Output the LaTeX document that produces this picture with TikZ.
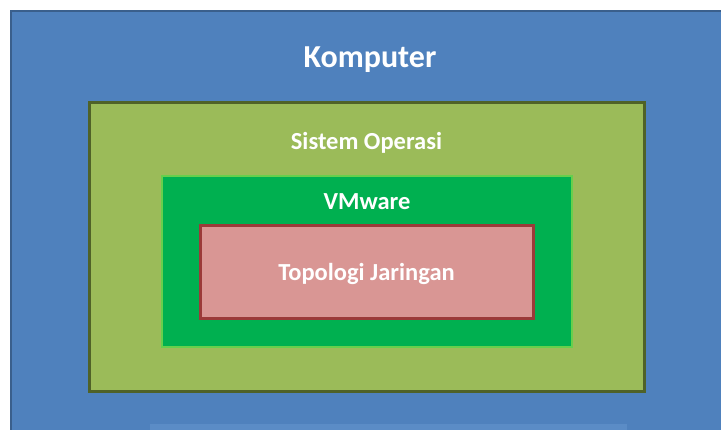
\documentclass[tikz,border=0pt]{standalone}
\usepackage{fontspec}
\setmainfont{Carlito}
\usepackage{xcolor}
\usepackage{tikz}
\usetikzlibrary{positioning}
\definecolor{komputerBlue}{HTML}{4F81BD}
\definecolor{komputerEdge}{HTML}{3A5F8C}
\definecolor{stripBlue}{HTML}{5B8CC6}
\definecolor{osGreen}{HTML}{9BBB59}
\definecolor{osEdge}{HTML}{4F6228}
\definecolor{vmGreen}{HTML}{00B050}
\definecolor{vmEdge}{HTML}{66D04C}
\definecolor{topoPink}{HTML}{D99694}
\definecolor{topoEdge}{HTML}{9B3A39}

\tikzset{
    layer/.style={rectangle, inner sep=0pt, outer sep=0pt},
    layertext/.style={text=white, font=\bfseries\fontsize{24.5}{28}\selectfont, inner sep=0pt, anchor=base}
}

\begin{document}
\begin{tikzpicture}[x=1pt, y=-1pt]
    \useasboundingbox (0,0) rectangle (721,430);
    \clip (0,0) rectangle (721,430);

    % Komputer
    \draw[komputerEdge, line width=2pt, fill=komputerBlue] (11,11) rectangle (740,450);
    \fill[stripBlue] (150,424) rectangle (627,440);
    \node[layertext, font=\bfseries\fontsize{32}{36}\selectfont] (komputer) at (370,68) {Komputer};

    % Sistem Operasi
    \node[layer, draw=osEdge, line width=3pt, fill=osGreen, minimum width=555pt, minimum height=289pt] (os) at (366.5,247.5) {};
    \node[layertext] (ostext) at ([yshift=-47pt]os.north) {Sistem Operasi};

    % VMware
    \node[layer, draw=vmEdge, line width=1.5pt, fill=vmGreen, minimum width=410pt, minimum height=171pt] (vm) at (367,261.5) {};
    \node[layertext] (vmtext) at ([yshift=-34pt]vm.north) {VMware};

    % Topologi Jaringan
    \node[layer, draw=topoEdge, line width=3pt, fill=topoPink, minimum width=333pt, minimum height=93pt] (topo) at (366.5,272.5) {};
    \node[layertext] (topotext) at ([yshift=-8.5pt]topo.center) {Topologi Jaringan};
\end{tikzpicture}
\end{document}
